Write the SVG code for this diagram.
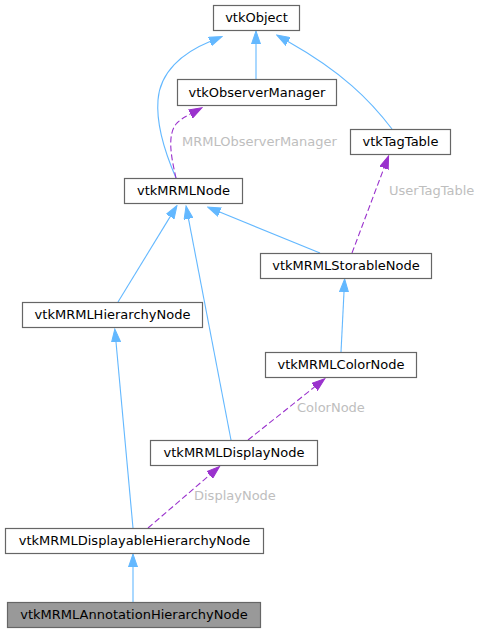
<svg xmlns="http://www.w3.org/2000/svg" width="481" height="633" viewBox="0 0 481 633">
<style>
.n rect{fill:#ffffff;stroke:#666666;stroke-width:1.2}
.n text{font-family:"DejaVu Sans",sans-serif;font-size:13px;fill:#000000;text-anchor:middle}
.e path{fill:none;stroke-width:1.1}
.inh{stroke:#63b8ff}
.use{stroke:#9a32cd;stroke-dasharray:6,3}
.lbl{font-family:"DejaVu Sans",sans-serif;font-size:13px;fill:#bebebe}
</style>
<defs>
<marker id="ab" markerUnits="userSpaceOnUse" markerWidth="14" markerHeight="10" refX="0" refY="5" orient="auto" viewBox="0 0 14 10">
<path d="M0,0.5 L13,5 L0,9.5 z" fill="#63b8ff" stroke="#63b8ff" stroke-width="1"/>
</marker>
<marker id="ap" markerUnits="userSpaceOnUse" markerWidth="14" markerHeight="10" refX="0" refY="5" orient="auto" viewBox="0 0 14 10">
<path d="M0,0.5 L13,5 L0,9.5 z" fill="#9a32cd" stroke="#9a32cd" stroke-width="1"/>
</marker>
</defs>
<g id="edges" class="e">
<path class="inh" d="M256,79 L256,44" marker-end="url(#ab)"/>
<path class="inh" d="M176,178 C166,155 156,125 158,100 C160,72 182,53 210,41.5" marker-end="url(#ab)"/>
<path class="inh" d="M392,129 C370,100 342,72 288,41.5" marker-end="url(#ab)"/>
<path class="use" d="M176,178 C172,160 166,135 177,123 C181,119 185,117 190.5,114" marker-end="url(#ap)"/>
<path class="use" d="M352,253 L384,168" marker-end="url(#ap)"/>
<path class="inh" d="M118,302 L170.2,216.6" marker-end="url(#ab)"/>
<path class="inh" d="M231,440 L188.5,218.8" marker-end="url(#ab)"/>
<path class="inh" d="M320,253 L219.7,212.1" marker-end="url(#ab)"/>
<path class="inh" d="M341,352 L344,292" marker-end="url(#ab)"/>
<path class="inh" d="M133,528 L116,342" marker-end="url(#ab)"/>
<path class="use" d="M248,440 L314.6,386.9" marker-end="url(#ap)"/>
<path class="use" d="M148,528 L209.7,475" marker-end="url(#ap)"/>
<path class="inh" d="M133,602 L133,567" marker-end="url(#ab)"/>
<text class="lbl" x="182" y="146">MRMLObserverManager</text>
<text class="lbl" x="389" y="195">UserTagTable</text>
<text class="lbl" x="297" y="411.5">ColorNode</text>
<text class="lbl" x="194" y="500">DisplayNode</text>
</g>
<g id="vtkObject" class="n"><rect x="213.5" y="5.5" width="86" height="25"/><text x="256.5" y="22">vtkObject</text></g>
<g id="vtkObserverManager" class="n"><rect x="177.5" y="79.5" width="159" height="26"/><text x="257" y="96.5">vtkObserverManager</text></g>
<g id="vtkTagTable" class="n"><rect x="350.5" y="129.5" width="100" height="25"/><text x="400.5" y="146">vtkTagTable</text></g>
<g id="vtkMRMLNode" class="n"><rect x="124.5" y="178.5" width="118" height="25"/><text x="183.5" y="195">vtkMRMLNode</text></g>
<g id="vtkMRMLStorableNode" class="n"><rect x="260.5" y="253.5" width="171" height="25"/><text x="346" y="270">vtkMRMLStorableNode</text></g>
<g id="vtkMRMLHierarchyNode" class="n"><rect x="22.5" y="302.5" width="180" height="25"/><text x="112.5" y="319">vtkMRMLHierarchyNode</text></g>
<g id="vtkMRMLColorNode" class="n"><rect x="265.5" y="352.5" width="151" height="25"/><text x="341" y="369">vtkMRMLColorNode</text></g>
<g id="vtkMRMLDisplayNode" class="n"><rect x="150.5" y="440.5" width="167" height="25"/><text x="234" y="457">vtkMRMLDisplayNode</text></g>
<g id="vtkMRMLDisplayableHierarchyNode" class="n"><rect x="5.5" y="528.5" width="258" height="25"/><text x="134.5" y="545">vtkMRMLDisplayableHierarchyNode</text></g>
<g id="vtkMRMLAnnotationHierarchyNode" class="n"><rect x="7.5" y="602.5" width="253" height="25" style="fill:#999999"/><text x="134" y="619">vtkMRMLAnnotationHierarchyNode</text></g>
</svg>
